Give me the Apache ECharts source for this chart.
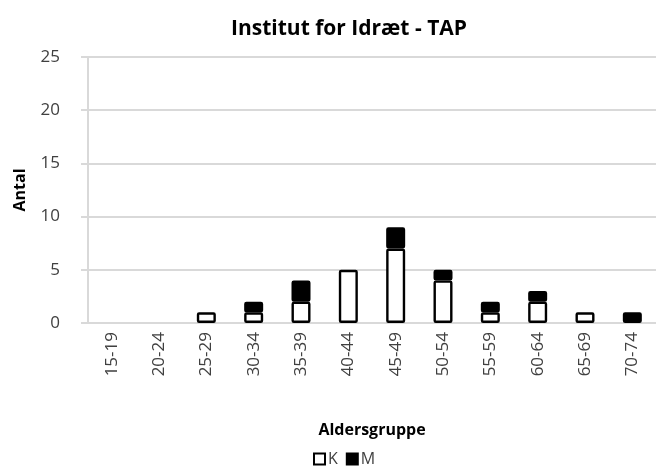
<!DOCTYPE html>
<html lang="da">
<head>
    <meta charset="UTF-8">
    <title>Institut for Idræt - TAP</title>
    <script src="https://cdn.jsdelivr.net/npm/echarts@6/dist/echarts.min.js"></script>
    <style>
        html, body { margin: 0; padding: 0; background: #fff; }
        #main { width: 656px; height: 468px; }
    </style>
</head>
<body>
<div id="main"></div>
<script>
    var categories = ['15-19', '20-24', '25-29', '30-34', '35-39', '40-44', '45-49', '50-54', '55-59', '60-64', '65-69', '70-74'];
    var kValues = [0, 0, 1, 1, 2, 5, 7, 4, 1, 2, 1, 0];
    var mValues = [0, 0, 0, 1, 2, 0, 2, 1, 1, 1, 0, 1];
    var yTicks = [0, 5, 10, 15, 20, 25];

    // nul-værdier tegnes ikke
    function noZero(arr) {
        return arr.map(function (v) { return v === 0 ? '-' : v; });
    }

    var font = '"Open Sans", "Noto Sans", sans-serif';
    var grey = '#d9d9d9';

    var chart = echarts.init(document.getElementById('main'));
    chart.setOption({
        animation: false,
        textStyle: { fontFamily: font },
        title: {
            text: 'Institut for Idræt - TAP',
            left: 344, top: 14, textAlign: 'center',
            textStyle: { fontSize: 21, fontWeight: 'bold', color: '#000', fontFamily: font }
        },
        legend: {
            data: ['K', 'M'],
            left: 308, top: 446,
            itemWidth: 11, itemHeight: 11, itemGap: 8,
            textStyle: { fontSize: 16, color: '#404040', padding: [0, 0, 0, -2] },
            icon: 'rect'
        },
        grid: { left: 88, top: 57, width: 572, height: 266 },
        xAxis: {
            type: 'category',
            data: categories,
            name: 'Aldersgruppe',
            nameLocation: 'middle',
            nameGap: 99,
            nameTextStyle: { fontSize: 16, fontWeight: 'bold', color: '#000' },
            axisLine: { lineStyle: { color: grey, width: 2 } },
            axisTick: { lineStyle: { color: grey, width: 2 }, length: 6 },
            axisLabel: { rotate: 90, fontSize: 17, color: '#404040', margin: 9 }
        },
        yAxis: {
            type: 'value',
            min: yTicks[0], max: yTicks[yTicks.length - 1], interval: 5,
            name: 'Antal',
            nameLocation: 'middle',
            nameGap: 60,
            nameTextStyle: { fontSize: 16, fontWeight: 'bold', color: '#000' },
            axisLine: { show: true, lineStyle: { color: grey, width: 2 } },
            axisTick: { show: true, lineStyle: { color: grey, width: 2 }, length: 7 },
            axisLabel: { fontSize: 17, color: '#404040', margin: 28 },
            splitLine: { lineStyle: { color: grey, width: 2 } }
        },
        series: [
            {
                name: 'K', type: 'bar', stack: 'total',
                data: noZero(kValues),
                barWidth: 19,
                itemStyle: { color: '#fff', borderColor: '#000', borderWidth: 2.4, borderRadius: 1 }
            },
            {
                name: 'M', type: 'bar', stack: 'total',
                data: noZero(mValues),
                barWidth: 19,
                itemStyle: { color: '#000', borderColor: '#000', borderWidth: 2.4, borderRadius: 1 }
            }
        ]
    });
</script>
</body>
</html>
